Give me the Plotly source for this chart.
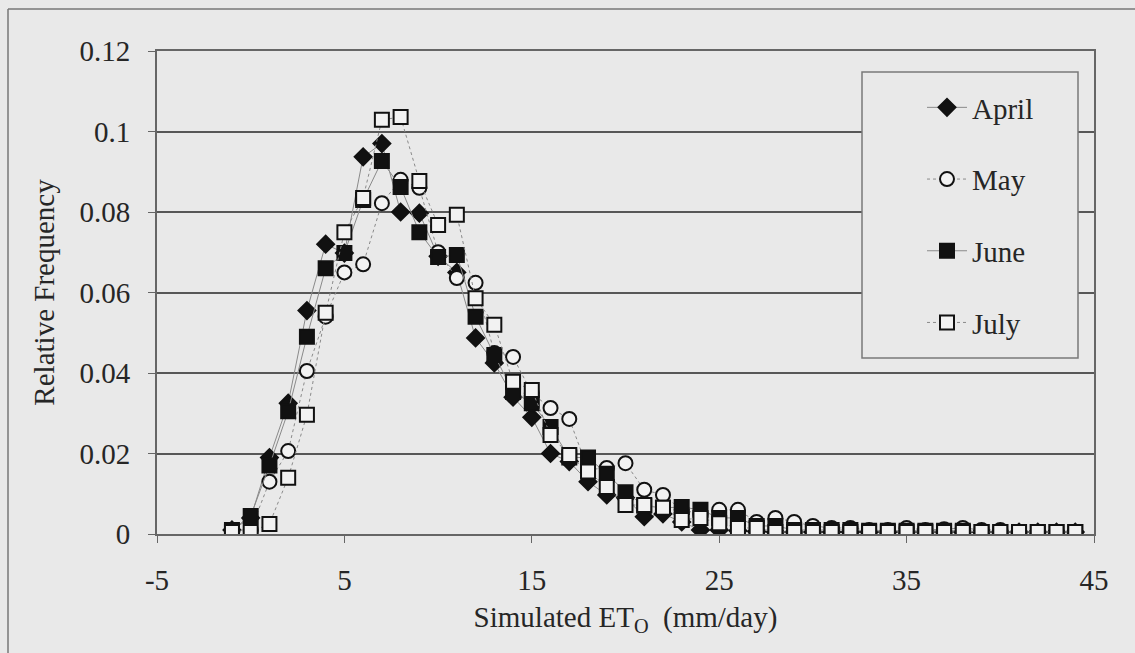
import plotly.graph_objects as go

# ---- data ----
et_bins = list(range(-1, 45))  # simulated ETo bin centres (mm/day)

april = [0.001, 0.004, 0.019, 0.0325, 0.0555, 0.072, 0.0698, 0.0937, 0.097, 0.080,
         0.0797, 0.069, 0.065, 0.0487, 0.0425, 0.034, 0.029, 0.020, 0.018, 0.013,
         0.0097, 0.009, 0.0043, 0.005, 0.003, 0.001, 0.001, 0.0008, 0.0006, 0.0005,
         0.0005, 0.0005, 0.0005, 0.0005, 0.0005, 0.0005, 0.0005, 0.0005, 0.0005, 0.0005,
         0.0005, 0.0005, 0.0005, 0.0005, 0.0005, 0.0005]

may = [0.0005, 0.001, 0.013, 0.0206, 0.0405, 0.054, 0.065, 0.067, 0.0822, 0.088,
       0.086, 0.070, 0.0636, 0.0624, 0.045, 0.044, 0.035, 0.0313, 0.0286, 0.016,
       0.0164, 0.0176, 0.011, 0.0097, 0.006, 0.005, 0.006, 0.006, 0.003, 0.004,
       0.003, 0.002, 0.0015, 0.0015, 0.001, 0.001, 0.0015, 0.001, 0.0012, 0.0015,
       0.001, 0.001, 0.0005, 0.0005, 0.0005, 0.0005]

june = [0.001, 0.0045, 0.017, 0.0305, 0.049, 0.066, 0.0698, 0.083, 0.0927, 0.0862,
        0.075, 0.0688, 0.0693, 0.054, 0.0445, 0.0353, 0.0325, 0.0266, 0.019, 0.019,
        0.015, 0.0104, 0.007, 0.0065, 0.0067, 0.006, 0.004, 0.004, 0.002, 0.002,
        0.001, 0.001, 0.001, 0.001, 0.0008, 0.0008, 0.0008, 0.0008, 0.0008, 0.0008,
        0.0005, 0.0005, 0.0005, 0.0005, 0.0005, 0.0005]

july = [0.0005, 0.0005, 0.0025, 0.014, 0.0296, 0.055, 0.075, 0.0835, 0.1029, 0.1036,
        0.0877, 0.0768, 0.0793, 0.0586, 0.052, 0.0378, 0.0358, 0.0246, 0.0196, 0.0155,
        0.0117, 0.0072, 0.0072, 0.0065, 0.0035, 0.004, 0.0027, 0.0015, 0.0015, 0.0005,
        0.0005, 0.0005, 0.0005, 0.0005, 0.0005, 0.0005, 0.0005, 0.0005, 0.0005, 0.0005,
        0.0005, 0.0005, 0.0005, 0.0005, 0.0005, 0.0005]

series_names = ["April", "May", "June", "July"]

x_tickvals = [-5, 5, 15, 25, 35, 45]
x_ticktext = ["-5", "5", "15", "25", "35", "45"]
y_tickvals = [0, 0.02, 0.04, 0.06, 0.08, 0.1, 0.12]
y_ticktext = ["0", "0.02", "0.04", "0.06", "0.08", "0.1", "0.12"]

# ---- styling ----
BG = "#e9e9e9"
FILL_WHITE = "#f2f2f2"
INK = "#111111"
TXT = "#262626"
LINE_GREY = "#8a8a8a"
FONT = "Liberation Serif"
FS = 29

styles = {
    "April": dict(symbol="diamond", size=13, color=INK, fill=INK, dash="solid"),
    "May": dict(symbol="circle", size=14, color=INK, fill=FILL_WHITE, dash="dot"),
    "June": dict(symbol="square", size=14, color=INK, fill=INK, dash="solid"),
    "July": dict(symbol="square", size=14, color=INK, fill=FILL_WHITE, dash="dot"),
}

fig = go.Figure()
for name, vals in zip(series_names, [april, may, june, july]):
    st = styles[name]
    fig.add_trace(go.Scatter(
        x=et_bins, y=vals, name=name, mode="lines+markers",
        legendgroup=name,
        line=dict(color=LINE_GREY, width=1, dash=st["dash"]),
        marker=dict(symbol=st["symbol"], size=st["size"], color=st["fill"],
                    line=dict(color=st["color"], width=2)),
    ))

fig.update_layout(
    width=1135, height=653,
    paper_bgcolor=BG, plot_bgcolor=BG,
    margin=dict(l=157, r=41, t=51, b=119),
    font=dict(family=FONT, size=FS, color=TXT),
    showlegend=True,
    legend=dict(
        x=(922 - 157) / 937, y=(534 - 82) / 483, xanchor="left", yanchor="top",
        bgcolor="rgba(0,0,0,0)", borderwidth=0,
        font=dict(family=FONT, size=FS, color=TXT),
        tracegroupgap=31, itemwidth=40,
    ),
)

fig.update_xaxes(
    range=[-5, 45], tickvals=x_tickvals, ticktext=x_ticktext,
    showgrid=False, zeroline=False,
    showline=True, linecolor="#666666", linewidth=2, mirror=True,
    ticks="outside", ticklen=7, tickcolor="#666666",
    ticklabelstandoff=12,
    tickfont=dict(family=FONT, size=FS, color=TXT),
    title=dict(text="Simulated ET<sub>O</sub>  (mm/day)",
               font=dict(family=FONT, size=FS, color=TXT), standoff=12),
)
fig.update_yaxes(
    range=[0, 0.12], tickvals=y_tickvals, ticktext=y_ticktext,
    showgrid=True, gridcolor="#575757", gridwidth=1.5, zeroline=False,
    showline=True, linecolor="#666666", linewidth=2, mirror=True,
    ticks="outside", ticklen=7, tickcolor="#666666",
    ticklabelstandoff=12,
    tickfont=dict(family=FONT, size=FS, color=TXT),
    title=dict(text="Relative Frequency",
               font=dict(family=FONT, size=FS, color=TXT), standoff=16),
)

# legend frame
fig.add_shape(type="rect", xref="paper", yref="paper",
              x0=(862 - 157) / 937, x1=(1078 - 157) / 937,
              y0=(534 - 358) / 483, y1=(534 - 72) / 483,
              line=dict(color="#7a7a7a", width=1.5), fillcolor=BG, layer="above")

# outer chart frame (left and top edges visible)
fig.add_shape(type="line", xref="paper", yref="paper",
              x0=(8 - 157) / 937, x1=(8 - 157) / 937,
              y0=(534 - 653) / 483, y1=(534 - 9) / 483,
              line=dict(color="#777777", width=1.5))
fig.add_shape(type="line", xref="paper", yref="paper",
              x0=(8 - 157) / 937, x1=(1135 - 157) / 937,
              y0=(534 - 9) / 483, y1=(534 - 9) / 483,
              line=dict(color="#777777", width=1.5))

fig.write_html("out.html")
